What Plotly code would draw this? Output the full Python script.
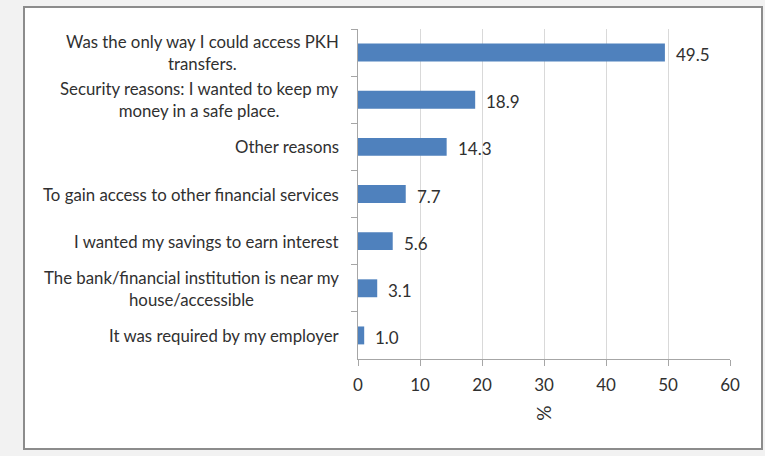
import plotly.graph_objects as go

categories = [
    "Was the only way I could access PKH<br>transfers.",
    "Security reasons: I wanted to keep my<br>money in a safe place.",
    "Other reasons",
    "To gain access to other financial services",
    "I wanted my savings to earn interest",
    "The bank/financial institution is near my<br>house/accessible",
    "It was required by my employer",
]
values = [49.5, 18.9, 14.3, 7.7, 5.6, 3.1, 1.0]
x_ticks = [0, 10, 20, 30, 40, 50, 60]
x_title = "%"

FONT = "Lato"
TXT = "#303030"
W, H = 765, 456
L, R, T, B = 358, 35, 29, 97
pw, ph = W - L - R, H - T - B

fig = go.Figure(go.Bar(
    y=categories,
    x=values,
    orientation="h",
    marker=dict(color="#4F81BD", line=dict(width=0)),
    width=0.38,
))

def px_x(p):
    return (p - L) / pw

def px_y(p):
    return (H - B - p) / ph

fig.add_shape(type="rect", xref="paper", yref="paper",
              x0=px_x(24), x1=px_x(762), y0=px_y(449), y1=px_y(7),
              line=dict(color="#8c8c8c", width=2), fillcolor="white", layer="below")

# category labels (center-aligned multi-line, like the reference)
for c in categories:
    fig.add_annotation(text=c, xref="paper", yref="y", x=px_x(341), y=c,
                       xanchor="right", yanchor="middle", align="center",
                       showarrow=False, font=dict(size=16.8, color=TXT, family=FONT))

# value labels
for c, v in zip(categories, values):
    fig.add_annotation(text=f"{v:.1f}", xref="x", yref="y", x=v, y=c,
                       xanchor="left", yanchor="middle", xshift=9, yshift=-2,
                       showarrow=False, font=dict(size=17, color=TXT, family=FONT))

fig.add_annotation(text=x_title, xref="paper", yref="paper", x=0.5, y=px_y(414),
                   showarrow=False, textangle=90, yshift=-8,
                   font=dict(size=19, color=TXT, family=FONT))

fig.update_layout(
    width=W, height=H,
    margin=dict(l=L, r=R, t=T, b=B, autoexpand=False),
    paper_bgcolor="#f2f2f2",
    plot_bgcolor="rgba(0,0,0,0)",
    showlegend=False,
    font=dict(family=FONT, color=TXT),
    xaxis=dict(range=[0, 60], tickvals=x_ticks, showgrid=True, gridcolor="#d9d9d9",
               gridwidth=1, zeroline=False, showline=True, linecolor="#a6a6a6",
               ticks="outside", ticklen=6, tickcolor="#a6a6a6",
               tickfont=dict(size=17, color=TXT), ticklabelstandoff=5),
    yaxis=dict(autorange="reversed", showline=True, linecolor="#a6a6a6",
               ticks="outside", ticklen=6, tickcolor="#a6a6a6", tickson="boundaries",
               showgrid=False, showticklabels=False),
)

fig.write_html("out.html")
